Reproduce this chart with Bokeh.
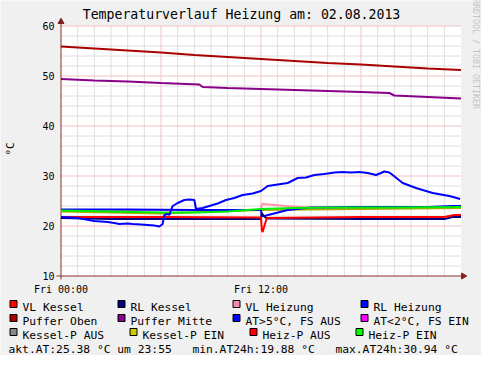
import math
from bokeh.plotting import figure
from bokeh.models import Range1d
from bokeh.core.properties import value
from bokeh.embed import file_html
from bokeh.resources import INLINE

FONT = "DejaVu Sans Mono"

# ---------------- data (hours since Fri 00:00, °C) ----------------
title_text = "Temperaturverlauf Heizung am: 02.08.2013"
unit_text = "°C"
watermark_text = "RRDTOOL / TOBI OETIKER"
x_tick_hours = [0, 12]
x_tick_labels = ["Fri 00:00", "Fri 12:00"]
y_ticks = [10, 20, 30, 40, 50, 60]
y_tick_labels = ["10", "20", "30", "40", "50", "60"]

puffer_oben_t = [0, 2, 4, 6, 8, 10, 12, 14, 16, 18, 20, 22, 24]
puffer_oben_v = [55.9, 55.5, 55.1, 54.7, 54.2, 53.8, 53.4, 53.0, 52.6, 52.3, 51.9, 51.5, 51.2]

puffer_mitte_t = [0, 2, 4, 6, 8.3, 8.5, 10, 12, 14, 16, 18, 19.7, 20.0, 22, 24]
puffer_mitte_v = [49.4, 49.1, 48.9, 48.6, 48.3, 47.8, 47.6, 47.4, 47.2, 47.0, 46.8, 46.6, 46.1, 45.8, 45.5]

at_t = [0, 0.5, 1.0, 1.5, 2.0, 2.4, 2.8, 3.2, 3.5, 4.0, 4.3, 4.8, 5.2, 5.6, 5.9, 6.1, 6.2, 6.4, 6.5,
        6.7, 7.0, 7.4, 7.7, 8.0, 8.1, 8.5, 8.9, 9.4, 9.9, 10.4, 10.9, 11.5, 12.0, 12.4, 13.0, 13.6,
        14.2, 14.7, 15.2, 15.8, 16.4, 16.9, 17.4, 17.9, 18.4, 18.9, 19.2, 19.4, 19.7, 19.9, 20.5,
        21.3, 21.8, 22.3, 22.8, 23.3, 23.95]
at_v = [21.8, 21.7, 21.6, 21.3, 21.0, 20.9, 20.8, 20.6, 20.4, 20.5, 20.4, 20.3, 20.2, 20.1, 19.9,
        20.4, 22.2, 22.4, 22.2, 24.0, 24.6, 25.2, 25.3, 25.2, 23.4, 23.6, 24.0, 24.5, 25.2, 25.6,
        26.2, 26.5, 27.0, 28.0, 28.3, 28.6, 29.6, 29.7, 30.2, 30.4, 30.7, 30.8, 30.7, 30.8, 30.6,
        30.2, 30.6, 30.9, 30.7, 30.2, 28.6, 27.6, 27.1, 26.6, 26.3, 26.0, 25.4]

rl_heizung_t = [0, 4, 8, 12, 12.05, 12.2, 13.6, 15, 18, 22, 23.5, 24]
rl_heizung_v = [23.3, 23.3, 23.2, 23.2, 22.0, 22.0, 23.2, 23.7, 23.8, 23.8, 24.0, 24.0]

heiz_p_ein_t = [0, 3, 6, 8, 10, 12, 14, 16, 20, 24]
heiz_p_ein_v = [23.1, 22.9, 22.7, 22.7, 22.9, 23.4, 23.6, 23.7, 23.7, 23.8]

kessel_p_ein_t = [0, 6, 12, 24]
kessel_p_ein_v = [22.9, 22.5, 23.2, 23.6]

vl_heizung_t = [0, 12, 12.05, 12.5, 13.5, 15, 24]
vl_heizung_v = [23.2, 23.2, 24.4, 24.3, 24.0, 23.7, 23.7]

vl_kessel_t = [0, 6, 12, 12.05, 12.1, 12.2, 12.35, 18, 23.0, 23.6, 24]
vl_kessel_v = [21.8, 21.8, 21.7, 19.2, 18.8, 20.0, 21.6, 21.8, 21.8, 22.2, 22.2]

rl_kessel_t = [0, 3, 12, 12.05, 12.15, 12.35, 18, 23.0, 23.5, 24]
rl_kessel_v = [21.6, 21.4, 21.4, 22.6, 22.0, 21.5, 21.4, 21.4, 21.8, 21.8]

legend_rows = [
    ["VL Kessel", "RL Kessel", "VL Heizung", "RL Heizung"],
    ["Puffer Oben", "Puffer Mitte", "AT>5°C, FS AUS", "AT<2°C, FS EIN"],
    ["Kessel-P AUS", "Kessel-P EIN", "Heiz-P AUS", "Heiz-P EIN"],
]
legend_colors = [
    ["#FF0000", "#000080", "#FF88AA", "#0000FF"],
    ["#AA0000", "#880088", "#0000FF", "#FF00FF"],
    ["#888888", "#CCCC00", "#FF0000", "#00FF00"],
]
stats_texts = ["akt.AT:25.38 °C um 23:55", "min.AT24h:19.88 °C", "max.AT24h:30.94 °C"]

minor_hours = [h for h in range(1, 24) if h % 6 != 0]
major_hours = [6, 12, 18]
minor_temps = [t for t in range(12, 60, 2) if t % 10 != 0]
major_temps = [20, 30, 40, 50, 60]

# ---------------- layout (page pixels of the 497x371 picture) ----------------
CANVAS_X, CANVAS_Y, W, H = 8, 8, 481, 355
X0_PX, Y0_PX = 68.5, 283.5          # page position of (0 h, 10 °C)
PX_PER_H, PX_PER_C = 400 / 24, 5.0
legend_box_x = [[17, 125, 240, 368], [17, 125, 240, 368], [17, 137, 257, 363]]
legend_baseline = [315.2, 329.2, 343.2]
stats_x = [16, 199.9, 342.9]
stats_baseline = 357.2


def hx(px):
    return (px - X0_PX) / PX_PER_H


def ty(py):
    return 10 + (Y0_PX - py) / PX_PER_C


AXIS_COLOR = "#8B3030"
ARROW_COLOR = "#7F1F1F"
GRID_MINOR = "#DEDEDE"
GRID_MAJOR = "#F5C2C2"

p = figure(width=W, height=H,
           x_range=Range1d(hx(CANVAS_X), hx(CANVAS_X + W)),
           y_range=Range1d(ty(CANVAS_Y + H), ty(CANVAS_Y)),
           output_backend="svg", toolbar_location=None, title_location=None,
           x_axis_location=None, y_axis_location=None, min_border=0)
p.background_fill_color = "#F0F0F0"
p.border_fill_color = "#F0F0F0"
p.outline_line_color = None
p.grid.visible = False

# canvas
p.quad(left=[0], right=[24], bottom=[10], top=[60], fill_color="white", line_color=None)

# grid
p.segment(x0=minor_hours, x1=minor_hours, y0=[10] * len(minor_hours), y1=[60] * len(minor_hours),
          line_color=GRID_MINOR, line_width=1)
p.segment(x0=[0] * len(minor_temps), x1=[24] * len(minor_temps), y0=minor_temps, y1=minor_temps,
          line_color=GRID_MINOR, line_width=1)
p.segment(x0=major_hours, x1=major_hours, y0=[10] * len(major_hours), y1=[60] * len(major_hours),
          line_color=GRID_MAJOR, line_width=1)
p.segment(x0=[0] * len(major_temps), x1=[24] * len(major_temps), y0=major_temps, y1=major_temps,
          line_color=GRID_MAJOR, line_width=1)

# axes
p.segment(x0=[hx(64)], x1=[hx(470)], y0=[10], y1=[10], line_color=AXIS_COLOR, line_width=1)
p.segment(x0=[0], x1=[0], y0=[ty(287)], y1=[ty(30)], line_color=AXIS_COLOR, line_width=1)
p.scatter(x=[hx(470.8)], y=[10], marker="triangle", size=6, angle=-math.pi / 2,
          fill_color=ARROW_COLOR, line_color=ARROW_COLOR)
p.scatter(x=[0], y=[ty(29.2)], marker="triangle", size=6,
          fill_color=ARROW_COLOR, line_color=ARROW_COLOR)

# tick labels
p.text(x=[hx(62)] * len(y_ticks), y=y_ticks, text=y_tick_labels, text_font=value(FONT),
       text_font_size="10px", text_align="right", text_baseline="middle", text_color="black")
p.text(x=x_tick_hours, y=[ty(297.3)] * len(x_tick_hours), text=x_tick_labels, text_font=value(FONT),
       text_font_size="10px", text_align="center", text_baseline="alphabetic", text_color="black")

# title, unit, watermark
p.text(x=[hx(249)], y=[ty(21.8)], text=[title_text], text_font=value(FONT),
       text_font_size="13.2px", text_align="center", text_baseline="alphabetic", text_color="black")
p.text(x=[hx(17.5)], y=[ty(156.5)], text=[unit_text], angle=math.pi / 2, text_font=value(FONT),
       text_font_size="11px", text_align="center", text_baseline="alphabetic", text_color="black")
p.text(x=[hx(483.5)], y=[ty(6.5)], text=[watermark_text], angle=-math.pi / 2, text_font=value(FONT),
       text_font_size="8.3px", text_align="left", text_baseline="alphabetic", text_color="#C4C4C4")

# series
LW = 2
p.line(vl_heizung_t, vl_heizung_v, line_color="#FF99AA", line_width=LW)
p.line(kessel_p_ein_t, kessel_p_ein_v, line_color="#AAAA00", line_width=LW)
p.line(rl_heizung_t, rl_heizung_v, line_color="#0000FF", line_width=LW)
p.line(heiz_p_ein_t, heiz_p_ein_v, line_color="#00EE00", line_width=LW)
p.line(rl_kessel_t, rl_kessel_v, line_color="#000080", line_width=LW)
p.line(vl_kessel_t, vl_kessel_v, line_color="#FF0000", line_width=LW)
p.line(at_t, at_v, line_color="#0000FF", line_width=LW)
p.line(puffer_mitte_t, puffer_mitte_v, line_color="#880088", line_width=LW)
p.line(puffer_oben_t, puffer_oben_v, line_color="#AA0000", line_width=LW)

# legend
bl, br, bt, bb, bc, tx, tyy, tt = [], [], [], [], [], [], [], []
for r, (labels, cols, xs) in enumerate(zip(legend_rows, legend_colors, legend_box_x)):
    base = legend_baseline[r]
    for lab, col, x0 in zip(labels, cols, xs):
        bl.append(hx(x0 + 0.5)); br.append(hx(x0 + 7.5))
        bt.append(ty(base - 7.2)); bb.append(ty(base - 0.2))
        bc.append(col)
        tx.append(hx(x0 + 13)); tyy.append(ty(base)); tt.append(lab)
p.quad(left=bl, right=br, top=bt, bottom=bb, fill_color=bc, line_color="black", line_width=1)
p.text(x=tx, y=tyy, text=tt, text_font=value(FONT), text_font_size="11.3px",
       text_baseline="alphabetic", text_align="left", text_color="black")
p.text(x=[hx(x) for x in stats_x], y=[ty(stats_baseline)] * len(stats_texts), text=stats_texts,
       text_font=value(FONT), text_font_size="11.3px", text_baseline="alphabetic",
       text_align="left", text_color="black")

open("out.html", "w").write(file_html(p, INLINE))
